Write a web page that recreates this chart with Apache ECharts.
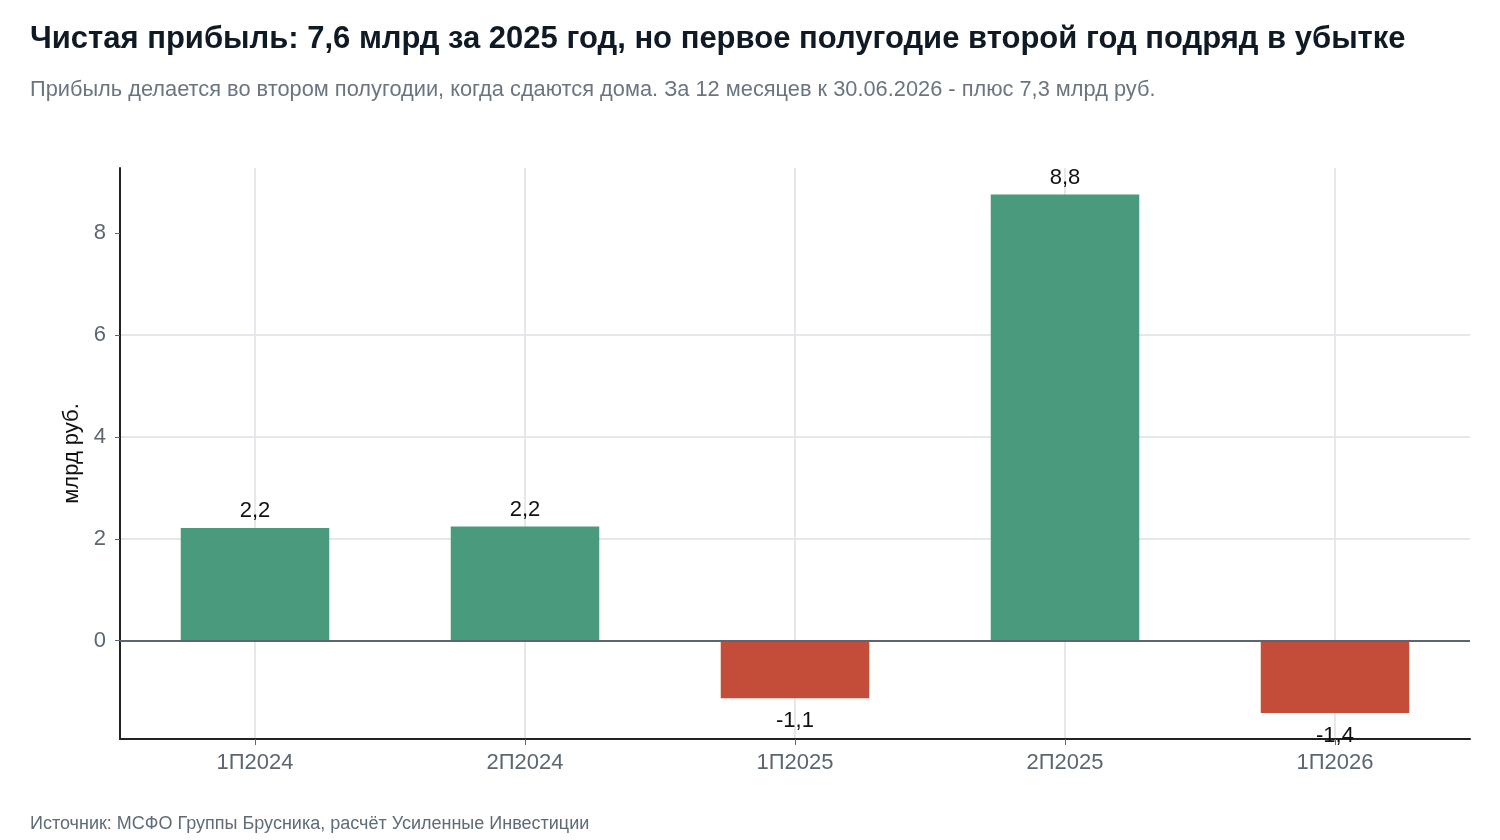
<!DOCTYPE html>
<html>
<head>
<meta charset="utf-8">
<script src="https://cdn.jsdelivr.net/npm/echarts@6/dist/echarts.min.js"></script>
<style>
  html, body { margin: 0; padding: 0; background: #fff; }
  #chart { width: 1500px; height: 840px; }
</style>
</head>
<body>
<div id="chart"></div>
<script>
// периоды и чистая прибыль, млрд руб.
var categories = ['1П2024', '2П2024', '1П2025', '2П2025', '1П2026'];
var profit = [2.21, 2.24, -1.13, 8.76, -1.42];
var yTicks = [0, 2, 4, 6, 8];

var GREEN = '#4a9a7e';
var RED = '#c44d3a';
var FONT = '"Liberation Sans", Arial, sans-serif';

var barData = [];
for (var i = 0; i < profit.length; i++) {
    var v = profit[i];
    barData.push({
        value: v,
        itemStyle: { color: v >= 0 ? GREEN : RED },
        label: v >= 0 ? { position: 'top', distance: 6 } : { position: 'bottom', distance: 12 }
    });
}

var chart = echarts.init(document.getElementById('chart'));
chart.setOption({
    animation: false,
    textStyle: { fontFamily: FONT },
    title: [
        {
            text: 'Чистая прибыль: 7,6 млрд за 2025 год, но первое полугодие второй год подряд в убытке',
            left: 30, top: 24, padding: 0,
            textStyle: { fontSize: 31, fontWeight: 'bold', color: '#0f1a24', fontFamily: FONT }
        },
        {
            text: 'Прибыль делается во втором полугодии, когда сдаются дома. За 12 месяцев к 30.06.2026 - плюс 7,3 млрд руб.',
            left: 30, top: 79, padding: 0,
            textStyle: { fontSize: 21.8, fontWeight: 'normal', color: '#6b7580', fontFamily: FONT }
        },
        {
            text: 'Источник: МСФО Группы Брусника, расчёт Усиленные Инвестиции',
            left: 30, top: 815, padding: 0,
            textStyle: { fontSize: 18, fontWeight: 'normal', color: '#5f6b76', fontFamily: FONT }
        }
    ],
    grid: { left: 120, right: 30, top: 168, bottom: 101 },
    xAxis: {
        type: 'category',
        data: categories,
        axisLine: { onZero: false, lineStyle: { color: '#222', width: 2 } },
        axisTick: { show: true, alignWithLabel: true, length: 6, lineStyle: { color: '#5b6670' } },
        axisLabel: { fontSize: 22, color: '#5b6670', margin: 13 },
        splitLine: { show: true, alignWithLabel: true, lineStyle: { color: '#e4e8ed', width: 2 } }
    },
    yAxis: {
        type: 'value',
        min: -1.93,
        max: 9.28,
        name: 'млрд руб.',
        nameLocation: 'middle',
        nameGap: 36,
        nameTextStyle: { fontSize: 22, color: '#111' },
        axisLine: { show: true, lineStyle: { color: '#222', width: 2 } },
        axisTick: { show: true, length: 5, customValues: yTicks, lineStyle: { color: '#5b6670' } },
        axisLabel: { fontSize: 22, color: '#5b6670', margin: 14, customValues: yTicks },
        splitLine: { show: true, showMinLine: false, showMaxLine: false, lineStyle: { color: '#e4e8ed', width: 2 } }
    },
    series: [{
        type: 'bar',
        data: barData,
        barWidth: '55%',
        label: {
            show: true,
            fontSize: 22,
            color: '#111',
            formatter: function (p) { return p.value.toFixed(1).replace('.', ','); }
        },
        markLine: {
            silent: true,
            symbol: 'none',
            label: { show: false },
            lineStyle: { color: '#5b6670', width: 2, type: 'solid' },
            data: [{ yAxis: 0 }]
        }
    }]
});
</script>
</body>
</html>
